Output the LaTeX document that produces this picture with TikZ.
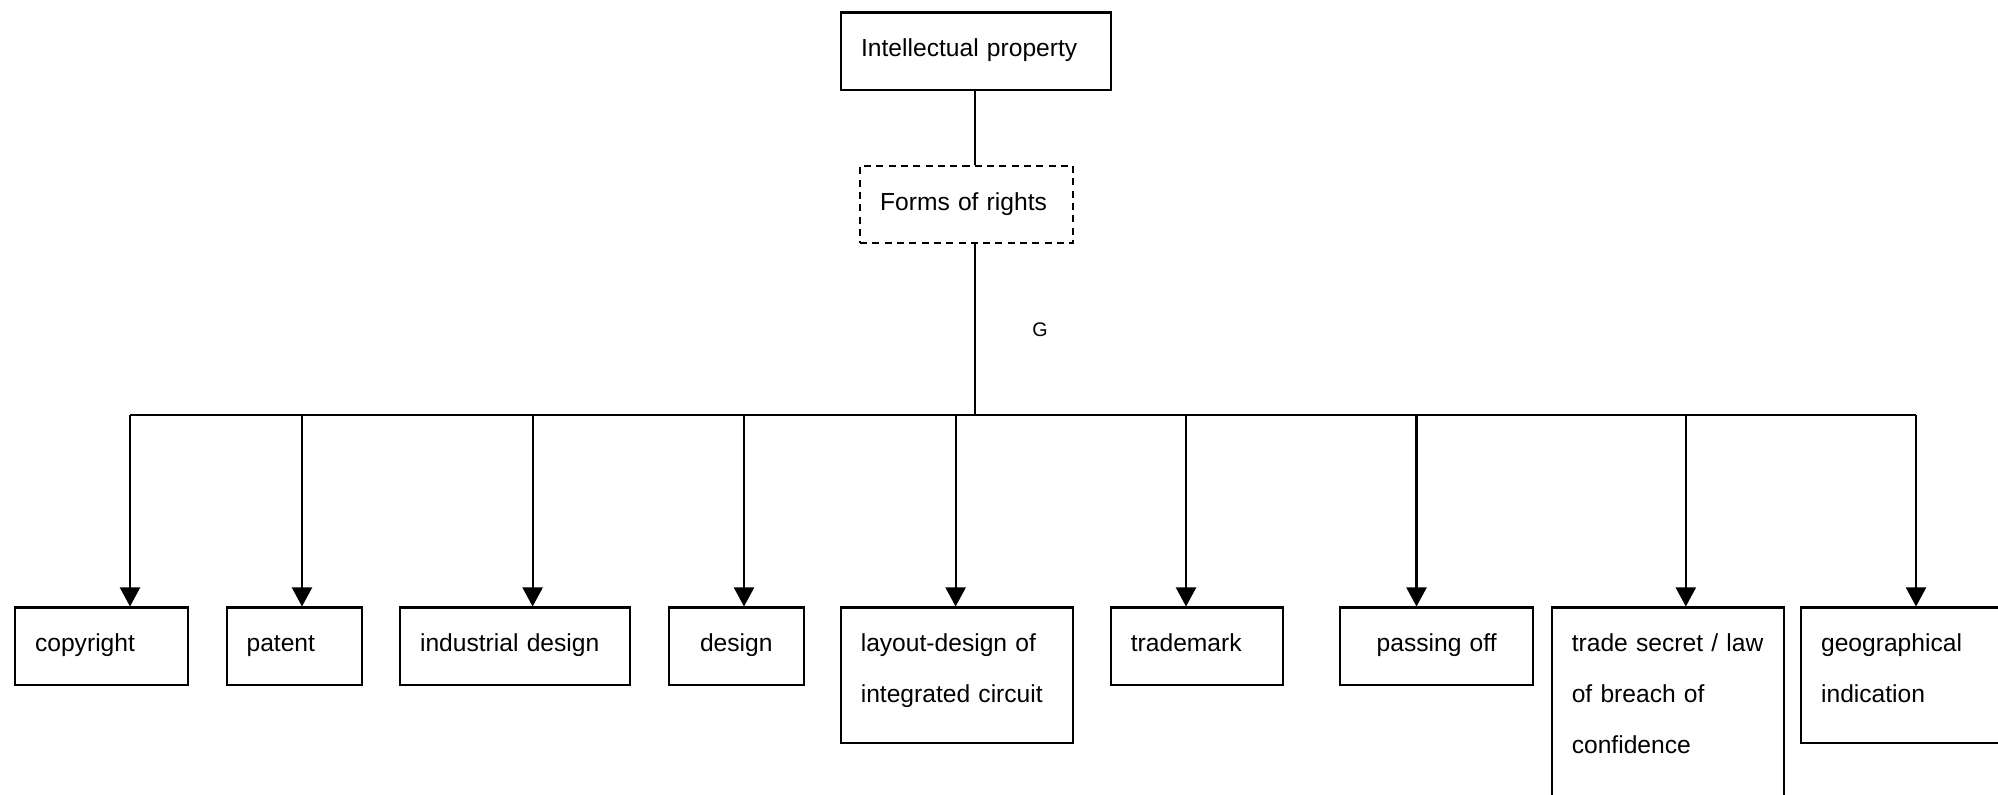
\documentclass[tikz,border=0pt]{standalone}
\usepackage{fontspec}
\setmainfont{Liberation Sans}
\usetikzlibrary{arrows.meta}

\begin{document}
\begin{tikzpicture}[x=.01cm, y=-.01cm, line width=.6pt, > = {Triangle[length=.19cm,width=.2cm]},
  box/.style={draw, anchor=north west, inner xsep=.2cm, inner ysep=0pt, align=left,
    text width=#1, text height=.44cm, text depth=.33cm, font=\fontsize{7}{14.5}\selectfont},
  tall/.style={text depth=.91cm}]

        \useasboundingbox (0,0) rectangle (1998,795);
        \clip (0,0) rectangle (1998,795);

        \node[box=2.30cm] (ip) at (840,11.5) {Intellectual property};
        \node[box=1.73cm, dash pattern=on 2pt off 1.5pt] (forms) at (859,165) {Forms of rights};
        \node[font=\fontsize{5.6}{6}\selectfont] (g) at (1040,330) {G};

        \node[box=1.33cm] (copy) at (14,606.5) {copyright};
        \node[box=.95cm] (pat) at (225.5,606.5) {patent};
        \node[box=1.90cm] (ind) at (399,606.5) {industrial design};
        \node[box=.95cm, align=center] (des) at (667.7,606.5) {design};
        \node[box=1.92cm, tall] (lay) at (839.7,606.5) {layout-design of\\integrated circuit};
        \node[box=1.32cm] (tm) at (1109.8,606.5) {trademark};
        \node[box=1.53cm, align=center] (pass) at (1339,606.5) {passing off};
        \node[box=1.92cm, text depth=2cm] (trade) at (1550.7,606.5) {trade secret / law\\of breach of\\confidence};
        \node[box=1.90cm, tall] (geo) at (1800,606.5) {geographical\\indication};

        \coordinate (hub) at (975,415);
        \path[draw] (ip.south -| hub) -- (forms.north -| hub);
        \path[draw] (forms.south -| hub) -- (hub);

        \foreach \n/\x in {copy/130,pat/302,ind/532.6,des/744,lay/955.6,tm/1186,pass/1416.5,trade/1685.8,geo/1916}{
          \coordinate (t-\n) at (\x,415);
          \path[draw,->] (t-\n) -- (t-\n |- \n.north);
        }
        \path[draw] (t-copy) -- (t-geo);
\end{tikzpicture}
\end{document}
